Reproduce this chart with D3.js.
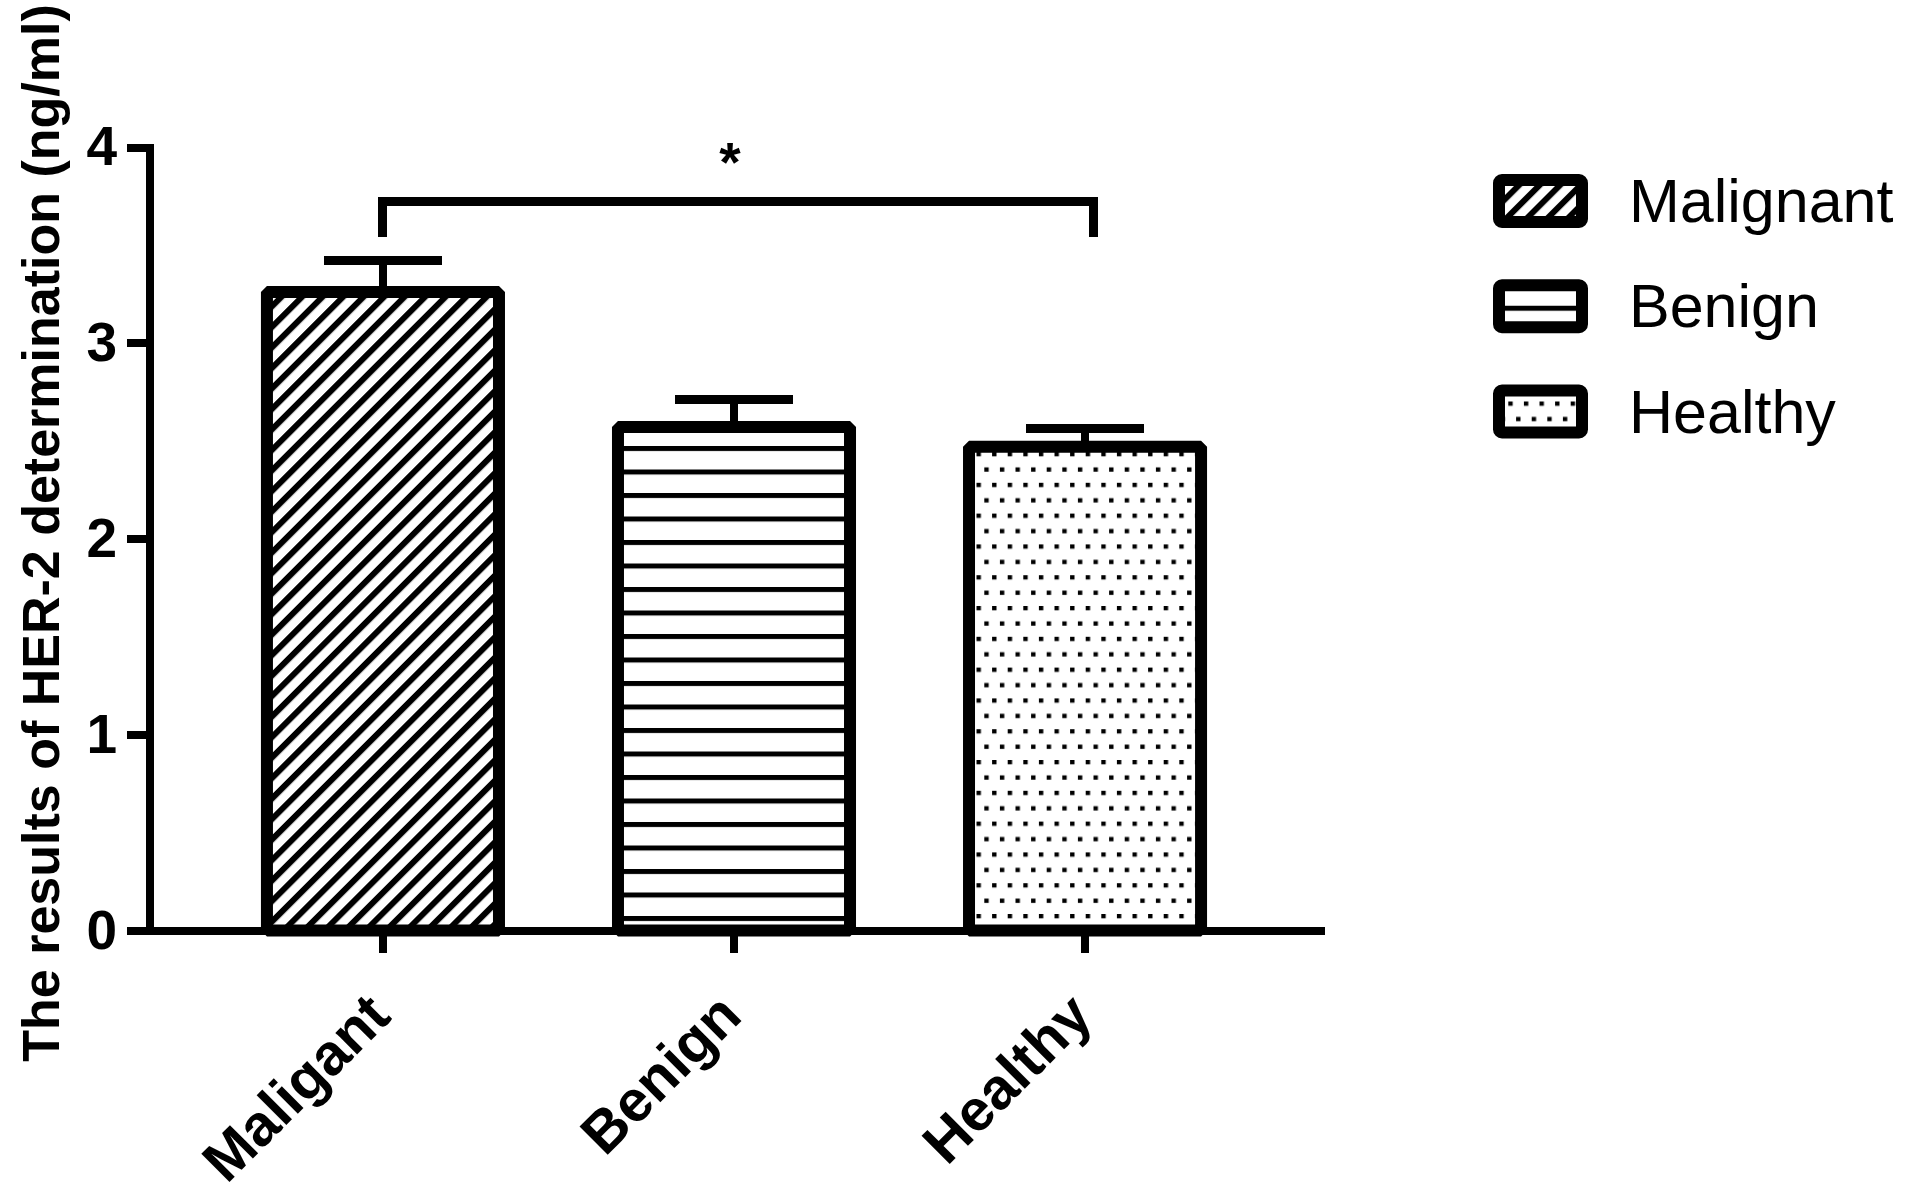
<!DOCTYPE html>
<html>
<head>
<meta charset="utf-8">
<script src="https://cdn.jsdelivr.net/npm/d3@7"></script>
<style>
  body { margin: 0; background: #fff; }
  svg { display: block; font-family: "Liberation Sans", Arial, sans-serif; }
</style>
</head>
<body>
<svg id="chart" width="1910" height="1199"></svg>
<script>
const categories = ["Maligant", "Benign", "Healthy"];
const legendLabels = ["Malignant", "Benign", "Healthy"];
const means = [3.26, 2.57, 2.47];
const upperErrors = [3.42, 2.71, 2.565];
const yTicks = [0, 1, 2, 3, 4];
const fills = ["hatch", "hlines", "dots"];
const significance = "*";

const svg = d3.select("#chart");
const yAxisX = 149, xAxisEnd = 1325; // plot frame

const y = d3.scaleLinear().domain([0, 4]).range([930.5, 147]);
const x = d3.scaleBand()
  .domain(categories)
  .range([yAxisX, 1319])
  .paddingInner(0.339)
  .paddingOuter(0.336);
const cx = d => x(d) + x.bandwidth() / 2;

// fill patterns
const defs = svg.append("defs");
const hatch = defs.append("pattern")
  .attr("id", "hatch")
  .attr("patternUnits", "userSpaceOnUse")
  .attr("width", 14.5).attr("height", 14.5)
  .attr("patternTransform", "rotate(45)");
hatch.append("rect").attr("width", 6).attr("height", 14.5).attr("fill", "#000");

const hlines = defs.append("pattern")
  .attr("id", "hlines")
  .attr("patternUnits", "userSpaceOnUse")
  .attr("y", 446)
  .attr("width", 20).attr("height", 23.5);
hlines.append("rect").attr("width", 20).attr("height", 5).attr("fill", "#000");

const dots = defs.append("pattern")
  .attr("id", "dots")
  .attr("patternUnits", "userSpaceOnUse")
  .attr("x", 1101.3).attr("y", 883.2)
  .attr("width", 15.6).attr("height", 30.8);
dots.append("rect").attr("width", 4.4).attr("height", 4.3).attr("fill", "#000");
dots.append("rect").attr("x", 7.8).attr("y", 15.4).attr("width", 4.4).attr("height", 4.3).attr("fill", "#000");

// error bars (stem + cap)
const err = svg.selectAll(".err")
  .data(categories)
  .enter()
  .append("g")
  .attr("class", "err")
  .attr("stroke", "#000")
  .attr("shape-rendering", "crispEdges");
err.append("line")
  .attr("x1", cx).attr("x2", cx)
  .attr("y1", (d, i) => y(means[i]))
  .attr("y2", (d, i) => y(upperErrors[i]))
  .attr("stroke-width", 8);
err.append("line")
  .attr("x1", d => cx(d) - x.bandwidth() * 0.256)
  .attr("x2", d => cx(d) + x.bandwidth() * 0.256)
  .attr("y1", (d, i) => y(upperErrors[i]))
  .attr("y2", (d, i) => y(upperErrors[i]))
  .attr("stroke-width", 9);

// bars
svg.selectAll(".bar")
  .data(categories)
  .enter()
  .append("rect")
  .attr("class", "bar")
  .attr("x", d => x(d))
  .attr("width", x.bandwidth())
  .attr("y", (d, i) => y(means[i]))
  .attr("height", (d, i) => y(0) - y(means[i]))
  .attr("fill", (d, i) => "url(#" + fills[i] + ")")
  .attr("stroke", "#000")
  .attr("stroke-width", 12)
  .attr("stroke-linejoin", "bevel");

// y axis
svg.append("g")
  .attr("transform", "translate(" + yAxisX + ",0)")
  .call(d3.axisLeft(y).tickValues(yTicks).tickSize(22).tickPadding(10).tickFormat(d3.format("d")))
  .attr("font-family", null)
  .attr("font-size", 55)
  .attr("font-weight", "bold")
  .call(g => g.selectAll("path, line").attr("stroke-width", 8).attr("shape-rendering", "crispEdges"))
  .call(g => g.selectAll("text").attr("fill", "#000"));

// x axis
svg.append("line")
  .attr("x1", yAxisX - 22).attr("x2", xAxisEnd)
  .attr("y1", y(0)).attr("y2", y(0))
  .attr("stroke", "#000")
  .attr("stroke-width", 8)
  .attr("shape-rendering", "crispEdges");
svg.append("g")
  .attr("transform", "translate(0," + y(0) + ")")
  .call(d3.axisBottom(x).tickSize(22).tickSizeOuter(0).tickFormat(""))
  .call(g => g.select(".domain").remove())
  .call(g => g.selectAll("line").attr("stroke-width", 8).attr("shape-rendering", "crispEdges"));

svg.selectAll(".xlabel")
  .data(categories)
  .enter()
  .append("text")
  .attr("class", "xlabel")
  .attr("transform", d => "translate(" + (cx(d) + 10) + "," + (y(0) + 88) + ") rotate(-45)")
  .attr("text-anchor", "end")
  .attr("font-size", 58)
  .attr("font-weight", "bold")
  .text(d => d);

// y title
svg.append("text")
  .attr("transform", "translate(58.5," + 533 + ") rotate(-90)")
  .attr("text-anchor", "middle")
  .attr("font-size", 52)
  .attr("font-weight", "bold")
  .text("The results of HER-2 determination (ng/ml)");

// significance bracket Maligant vs Healthy
const bx1 = cx(categories[0]), bx2 = cx(categories[2]) + 8;
svg.append("path")
  .attr("d", "M" + bx1 + "," + y(3.54) + "V" + y(3.72) + "H" + bx2 + "V" + y(3.54))
  .attr("fill", "none")
  .attr("stroke", "#000")
  .attr("stroke-width", 9)
  .attr("shape-rendering", "crispEdges");
svg.append("text")
  .attr("x", (bx1 + bx2) / 2 - 8)
  .attr("y", y(3.72) - 21)
  .attr("text-anchor", "middle")
  .attr("font-size", 55)
  .attr("font-weight", "bold")
  .text(significance);

// legend
const legend = svg.selectAll(".legend")
  .data(legendLabels)
  .enter()
  .append("g")
  .attr("class", "legend")
  .attr("transform", (d, i) => "translate(1499," + (201 + i * 105.25) + ")");
legend.append("rect")
  .attr("x", 0).attr("y", -21)
  .attr("width", 83).attr("height", 42)
  .attr("rx", 3)
  .attr("fill", (d, i) => "url(#" + fills[i] + ")")
  .attr("stroke", "#000")
  .attr("stroke-width", 12);
legend.append("text")
  .attr("x", 130)
  .attr("y", 21)
  .attr("font-size", 61)
  .text(d => d);
</script>
</body>
</html>
